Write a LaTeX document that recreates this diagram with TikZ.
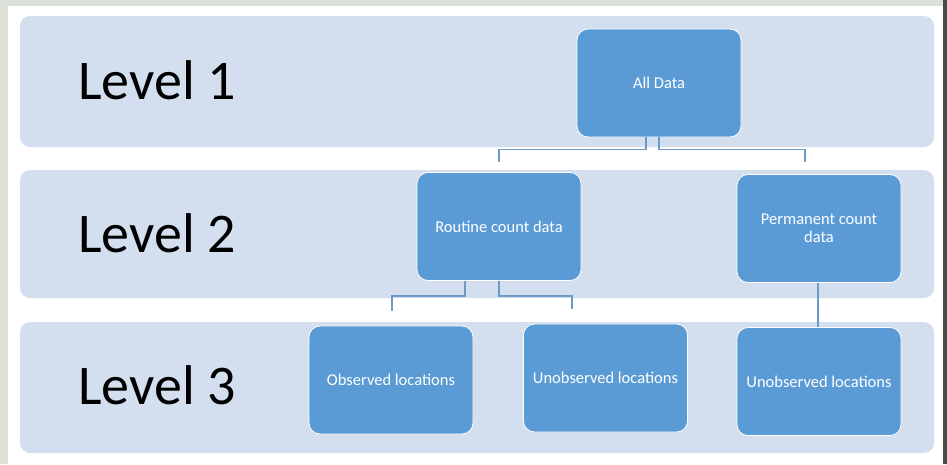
\documentclass[tikz,border=0pt]{standalone}
\usepackage{fontspec}
\setmainfont{Carlito}
\definecolor{framegray}{HTML}{DCE1DA}
\definecolor{banded}{HTML}{D3DFEF}
\definecolor{boxblue}{HTML}{5B9BD5}
\definecolor{linkblue}{HTML}{6C9AC6}
\definecolor{darkedge}{HTML}{4A4A4A}
\tikzset{
  band/.style={fill=banded, draw=none, rounded corners=10pt},
  levellabel/.style={anchor=west, inner sep=0pt, font=\fontsize{56}{60}\selectfont, text=black},
  databox/.style={draw=white, line width=0.8pt, fill=boxblue, rounded corners=11pt,
     minimum width=164pt, minimum height=108pt, inner sep=2pt, align=center,
     text=white, font=\fontsize{16.5}{18}\selectfont},
  conn/.style={draw=linkblue, line width=1.4pt}
}
\begin{document}
\begin{tikzpicture}[x=1pt,y=-1pt]
\useasboundingbox (0,0) rectangle (947,464);
% frame
\fill[framegray] (0,0) rectangle (947,464);
\fill[white] (8,6) rectangle (943,464);
\fill[darkedge] (943,0) rectangle (947,464);
% bands
\fill[band] (20,16) rectangle (934,147);
\fill[band] (20,170) rectangle (934,298);
\fill[band] (20,322) rectangle (934,453);
% level labels
\node[levellabel] (l1) at (78,80) {Level 1};
\node[levellabel] (l2) at (78,233) {Level 2};
\node[levellabel] (l3) at (78,385) {Level 3};
% boxes
\node[databox] (all) at (659,83) {All Data};
\node[databox] (routine) at (499,226.5) {Routine count data};
\node[databox] (perm) at (819,228.5) {Permanent count\\data};
\node[databox] (obs) at (391,380) {Observed locations};
\node[databox] (unobsA) at (605.5,378) {Unobserved locations};
\node[databox] (unobsB) at (819,381.5) {Unobserved locations};
% connector free ends
\coordinate (e1) at (499,162);
\coordinate (e2) at (805,162);
\coordinate (e3) at (392,311);
\coordinate (e4) at (572,309);
% connectors
\draw[conn] ([xshift=-13pt]all.south) -- ++(0,12) -| (e1);
\draw[conn] (all.south) -- ++(0,12) -| (e2);
\draw[conn] ([xshift=-34pt]routine.south) -- ++(0,15) -| (e3);
\draw[conn] (routine.south) -- ++(0,15) -| (e4);
\draw[conn] ([xshift=-1pt]perm.south) -- ([xshift=-1pt]unobsB.north);
\end{tikzpicture}
\end{document}
